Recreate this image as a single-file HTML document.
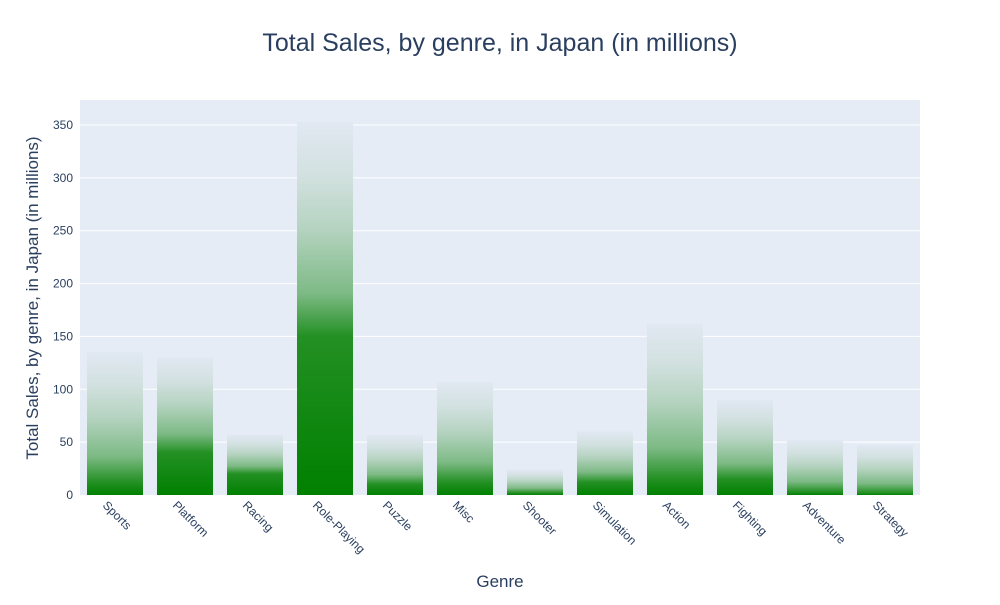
<!DOCTYPE html>
<html><head><meta charset="utf-8"><style>
body{margin:0;background:#fff;font-family:"Liberation Sans",sans-serif}
svg text{font-family:"Liberation Sans",sans-serif;fill:#2a3f5f}
</style></head><body>
<svg id="chart" width="1000" height="600">
<defs id="defs"></defs>
<text x="500" y="51" text-anchor="middle" font-size="25">Total Sales, by genre, in Japan (in millions)</text>
<rect x="80" y="100" width="840" height="395" fill="#e5ecf6"/>
<g id="grid"></g><g id="bars"></g><g id="xt"></g><g id="yt"></g>
<text x="500" y="587" text-anchor="middle" font-size="17">Genre</text>
<text transform="translate(38,298) rotate(-90)" text-anchor="middle" font-size="17">Total Sales, by genre, in Japan (in millions)</text>
</svg>
<script>
const genres=["Sports","Platform","Racing","Role-Playing","Puzzle","Misc","Shooter","Simulation","Action","Fighting","Adventure","Strategy"];
const totals=[135,130,57,353,57,107,24,60,162,90,52,47];
const darkPart=[12,40,20,150,10,12,2,12,15,15,3,2];
const yTicks=[0,50,100,150,200,250,300,350];
const NS="http://www.w3.org/2000/svg";
const x0=80,pw=840,y0=495,k=370/350;
const ys=v=>y0-v*k;
const xs=i=>x0+pw/genres.length*(i+0.5);
const el=(t,a,p)=>{const e=document.createElementNS(NS,t);for(const n in a)e.setAttribute(n,a[n]);p.appendChild(e);return e;};
const $=id=>document.getElementById(id);
yTicks.forEach(v=>{
 if(v>0){const l=el("line",{x1:80,x2:920,y1:ys(v),y2:ys(v),stroke:"#fff","stroke-width":1},$("grid"));
 
 }
 const t=el("text",{x:73,y:ys(v)+4,"text-anchor":"end","font-size":12},$("yt"));t.textContent=v;
 
 
});
genres.forEach((g,i)=>{
 const f=Math.min(darkPart[i]/totals[i],0.9);
 const gr=el("linearGradient",{id:"g"+i,x1:0,y1:1,x2:0,y2:0},$("defs"));
 [[0,"#008000"],[f,"#239023"],[f+(1-f)*0.2,"#7dba85"],[f+(1-f)*0.5,"#b5d3c0"],[f+(1-f)*0.75,"#d2e1e0"],[1,"#e1e8f2"]].forEach(s=>el("stop",{offset:s[0],"stop-color":s[1]},gr));
 const r=el("rect",{x:xs(i)-28,y:ys(totals[i]),width:56,height:totals[i]*k,fill:"url(#g"+i+")"},$("bars"));
 
 
 const t=el("text",{x:xs(i)-13,y:506,"font-size":12,transform:`rotate(45 ${xs(i)-13} 506)`},$("xt"));t.textContent=g;
 
 
});
</script>
</body></html>
